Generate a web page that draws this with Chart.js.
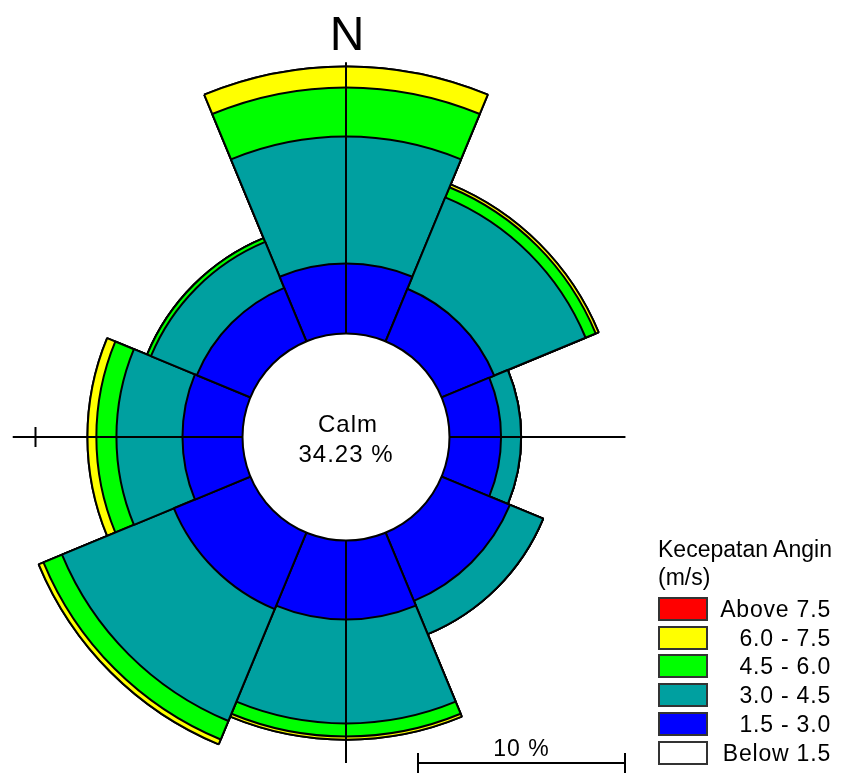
<!DOCTYPE html>
<html>
<head>
<meta charset="utf-8">
<script src="https://cdn.jsdelivr.net/npm/chart.js@4/dist/chart.umd.min.js"></script>
<style>
  html, body { margin: 0; padding: 0; width: 846px; height: 773px; overflow: hidden; background: #fff; }
  #wrap { position: relative; width: 846px; height: 773px; overflow: hidden; }
  #c { position: absolute; left: -94px; top: -3px; }
  .lg { position: absolute; font-family: "Liberation Sans", Arial, sans-serif; color: #000; font-size: 23px; line-height: 1; white-space: nowrap; }
  .lab { letter-spacing: 0.8px; }
  .box { position: absolute; width: 46px; height: 20px; border: 2px solid #333; }
</style>
</head>
<body>
<div id="wrap">
  <canvas id="c" width="880" height="880"></canvas>
  <div id="legend"></div>
</div>
<script>
// ---------- DATA (percent of observations per direction) ----------
const directions = ['N', 'NE', 'E', 'SE', 'S', 'SW', 'W', 'NW'];
const speed_1_5_to_3_0 = [3.38, 2.75, 2.49, 3.57, 3.82, 4.00, 2.90, 2.80];
const speed_3_0_to_4_5 = [6.14, 4.78, 0.97, 1.74, 5.02, 5.85, 3.19, 2.40];
const speed_4_5_to_6_0 = [2.37, 0.53, 0.00, 0.00, 0.63, 0.97, 0.97, 0.20];
const speed_6_0_to_7_5 = [1.01, 0.15, 0.00, 0.00, 0.15, 0.25, 0.43, 0.00];
const speed_above_7_5  = [0.00, 0.00, 0.00, 0.00, 0.00, 0.00, 0.00, 0.00];
const calmPercent = 34.23;
const legendTitle = ['Kecepatan Angin', '(m/s)'];
const legendLabels = ['Above 7.5', '6.0 - 7.5', '4.5 - 6.0', '3.0 - 4.5', '1.5 - 3.0', 'Below 1.5'];
const scaleBarPercent = 10;

// ---------- STYLE ----------
const colors = {
  above: '#FF0000', c6: '#FFFF00', c45: '#00FF00', c3: '#00A0A0', c15: '#0000FF', below: '#FFFFFF'
};
const legendColors = [colors.above, colors.c6, colors.c45, colors.c3, colors.c15, colors.below];
const PX_PER_PERCENT = 20.7;
const CALM_OFFSET = 5;            // calm circle radius expressed in percent units
const RADIUS_PX = 440;            // canvas half-size
const AXIS_EXT = { top: 13.1, bottom: 10.75, left: 11.1, right: 8.5 };
const FONT = '"Liberation Sans", Arial, sans-serif';

// cumulative stacks (inner -> outer)
function cumulate(arrs) {
  const out = [];
  let run = directions.map(() => 0);
  for (const a of arrs) { run = run.map((v, i) => v + a[i]); out.push(run.slice()); }
  return out;
}
const stacks = cumulate([speed_1_5_to_3_0, speed_3_0_to_4_5, speed_4_5_to_6_0, speed_6_0_to_7_5, speed_above_7_5]);
const stackColors = [colors.c15, colors.c3, colors.c45, colors.c6, colors.above];
const stackNames = ['1.5 - 3.0', '3.0 - 4.5', '4.5 - 6.0', '6.0 - 7.5', 'Above 7.5'];

const datasets = stacks.map((d, i) => ({
  label: stackNames[i],
  data: d,
  backgroundColor: stackColors[i],
  borderColor: '#000',
  borderWidth: 2,
  clip: false
}));

const decor = {
  id: 'windRoseDecor',
  afterDatasetsDraw(chart) {
    const s = chart.scales.r;
    const ctx = chart.ctx;
    const cx = s.xCenter, cy = s.yCenter;
    const rv = v => s.getDistanceFromCenterForValue(v);
    const r0 = rv(0);
    ctx.save();
    ctx.strokeStyle = '#000';
    ctx.lineWidth = 2;
    ctx.beginPath();
    ctx.moveTo(cx, cy - r0); ctx.lineTo(cx, cy - rv(AXIS_EXT.top));
    ctx.moveTo(cx, cy + r0); ctx.lineTo(cx, cy + rv(AXIS_EXT.bottom));
    ctx.moveTo(cx - r0, cy); ctx.lineTo(cx - rv(AXIS_EXT.left), cy);
    ctx.moveTo(cx + r0, cy); ctx.lineTo(cx + rv(AXIS_EXT.right), cy);
    const tx = cx - rv(scaleBarPercent);
    ctx.moveTo(tx, cy - 10); ctx.lineTo(tx, cy + 10);
    ctx.stroke();
    // calm circle
    ctx.beginPath();
    ctx.arc(cx, cy, r0, 0, Math.PI * 2);
    ctx.fillStyle = '#fff';
    ctx.fill();
    ctx.stroke();
    // calm text
    ctx.fillStyle = '#000';
    ctx.textAlign = 'center';
    ctx.textBaseline = 'alphabetic';
    ctx.font = '24px ' + FONT;
    ctx.letterSpacing = '1px';
    ctx.fillText('Calm', cx + 2, cy - 5);
    ctx.fillText(calmPercent.toFixed(2) + ' %', cx, cy + 25);
    // North label
    ctx.letterSpacing = '0px';
    ctx.font = '48px ' + FONT;
    ctx.fillText('N', cx + 1, cy - 387);
    // scale bar
    const bx0 = cx + 72;
    const bx1 = bx0 + (rv(scaleBarPercent) - rv(0));
    const by = cy + 326;
    ctx.beginPath();
    ctx.moveTo(bx0, by); ctx.lineTo(bx1, by);
    ctx.moveTo(bx0, by - 10); ctx.lineTo(bx0, by + 12);
    ctx.moveTo(bx1, by - 10); ctx.lineTo(bx1, by + 12);
    ctx.stroke();
    ctx.font = '23px ' + FONT;
    ctx.letterSpacing = '1px';
    ctx.fillText(scaleBarPercent + ' %', (bx0 + bx1) / 2, by - 7);
    ctx.restore();
  }
};

new Chart(document.getElementById('c'), {
  type: 'polarArea',
  data: { labels: directions, datasets },
  options: {
    responsive: false,
    animation: false,
    layout: { padding: 0 },
    plugins: { legend: { display: false }, tooltip: { enabled: false } },
    scales: {
      r: {
        display: false,
        startAngle: -22.5,
        min: -CALM_OFFSET,
        max: -CALM_OFFSET + RADIUS_PX / PX_PER_PERCENT
      }
    }
  },
  plugins: [decor]
});

// ---------- HTML legend ----------
const lg = document.getElementById('legend');
function addText(txt, left, top, align, cls) {
  const d = document.createElement('div');
  d.className = 'lg' + (cls ? ' ' + cls : '');
  d.textContent = txt;
  d.style.top = top + 'px';
  if (align === 'right') { d.style.right = (846 - left) + 'px'; } else { d.style.left = left + 'px'; }
  lg.appendChild(d);
}
addText(legendTitle[0], 658, 538);
addText(legendTitle[1], 658, 566);
legendLabels.forEach((lab, i) => {
  const top = 597 + i * 28.7;
  const b = document.createElement('div');
  b.className = 'box';
  b.style.left = '658px';
  b.style.top = top + 'px';
  b.style.background = legendColors[i];
  lg.appendChild(b);
  addText(lab, 831, top + 1, 'right', 'lab');
});
</script>
</body>
</html>
